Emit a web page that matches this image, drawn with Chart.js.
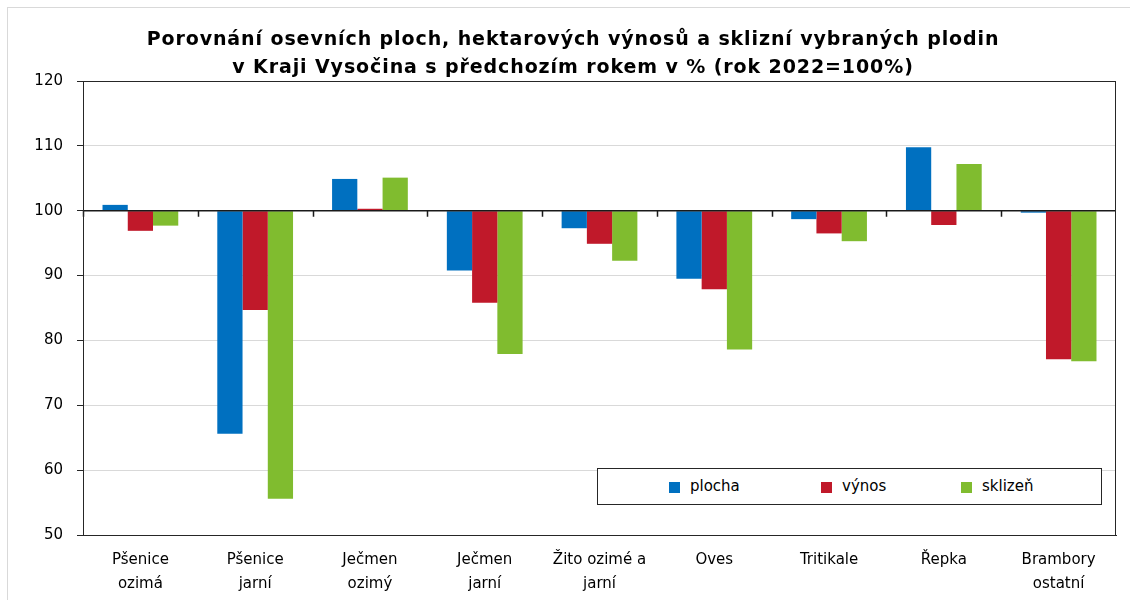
<!DOCTYPE html>
<html lang="cs">
<head>
<meta charset="utf-8">
<title>Porovnání osevních ploch</title>
<script src="https://cdn.jsdelivr.net/npm/chart.js@4.4.1/dist/chart.umd.min.js"></script>
<style>
  html, body { margin: 0; padding: 0; background: #fff; }
  body { width: 1130px; height: 600px; position: relative; overflow: hidden; font-family: Tahoma, 'DejaVu Sans', sans-serif; }
  .frame { position: absolute; left: 7px; top: 7px; width: 1200px; height: 700px; border: 1px solid #d9d9d9; box-sizing: border-box; }
  .title { position: absolute; left: 0; top: 24px; width: 1146px; text-align: center; font-weight: bold; font-size: 19px; letter-spacing: 0.9px; line-height: 28px; color: #000; }
  #wrap { position: absolute; left: 0; top: 0; width: 1130px; height: 600px; }
  .legend { position: absolute; left: 597px; top: 468px; width: 505px; height: 37px; box-sizing: border-box; border: 1px solid #262626; background: #fff; font-size: 15px; color: #000; }
  .legend span { position: absolute; top: 8px; line-height: 18px; }
  .legend i { position: absolute; top: 13px; width: 11px; height: 11px; }
</style>
</head>
<body>
<div class="frame"></div>
<div id="wrap"><canvas id="cropChart" width="1130" height="600"></canvas></div>
<div class="title">Porovnání osevních ploch, hektarových výnosů a sklizní vybraných plodin<br>v Kraji Vysočina s předchozím rokem v % (rok 2022=100%)</div>
<div class="legend">
  <i style="left:71px;background:#0070c0"></i><span style="left:92px">plocha</span>
  <i style="left:223px;background:#c0192a"></i><span style="left:244px">výnos</span>
  <i style="left:363px;background:#80bc2f"></i><span style="left:384px">sklizeň</span>
</div>
<script>
// ── Data (rok 2022 = 100 %) ─────────────────────────────────────────
const crops = [
  ['Pšenice', 'ozimá'], ['Pšenice', 'jarní'], ['Ječmen', 'ozimý'], ['Ječmen', 'jarní'],
  ['Žito ozimé a', 'jarní'], 'Oves', 'Tritikale', 'Řepka', ['Brambory', 'ostatní']
];
const plocha  = [100.9, 65.6, 104.9, 90.8, 97.3, 89.5, 98.7, 109.8, 99.7];
const vynos   = [96.9, 84.7, 100.3, 85.8, 94.9, 87.9, 96.5, 97.8, 77.1];
const sklizen = [97.7, 55.6, 105.1, 77.9, 92.3, 78.6, 95.3, 107.2, 76.8];
const yTicks  = [50, 60, 70, 80, 90, 100, 110, 120];

const FONT = "Tahoma, 'DejaVu Sans', sans-serif";

// ── Frame, 100 % line and its category ticks ────────────────────────
const framePlugin = {
  id: 'frame',
  afterDatasetsDraw(chart) {
    const { ctx, chartArea: a, scales } = chart;
    const y100 = scales.y.getPixelForValue(100);
    const step = (a.right - a.left) / crops.length;
    ctx.save();
    ctx.strokeStyle = '#1a1a1a';
    ctx.lineWidth = 1.5;
    ctx.beginPath();
    ctx.moveTo(a.left, y100);
    ctx.lineTo(a.right, y100);
    for (let i = 0; i < crops.length; i++) {
      const x = Math.round(a.left + i * step) + 0.5;
      ctx.moveTo(x, y100);
      ctx.lineTo(x, y100 + 6);
    }
    ctx.stroke();
    ctx.lineWidth = 1;
    ctx.strokeStyle = '#262626';
    ctx.strokeRect(a.left + 0.5, a.top + 0.5, a.right - a.left - 1, a.bottom - a.top);
    ctx.restore();
  }
};

// ── Chart ───────────────────────────────────────────────────────────
function drawCropChart() {
  const ctx = document.getElementById('cropChart');
  const series = [
    { label: 'plocha', data: plocha, color: '#0070c0' },
    { label: 'výnos', data: vynos, color: '#c0192a' },
    { label: 'sklizeň', data: sklizen, color: '#80bc2f' },
  ];
  new Chart(ctx, {
    type: 'bar',
    data: {
      labels: crops,
      datasets: series.map(s => ({
        label: s.label,
        data: s.data,
        base: 100,
        backgroundColor: s.color,
        borderWidth: 0,
        categoryPercentage: 0.66,
        barPercentage: 1.0,
      }))
    },
    options: {
      responsive: false,
      animation: false,
      events: [],
      layout: { padding: { left: 0, right: 14, top: 81, bottom: 0 } },
      plugins: { legend: { display: false }, title: { display: false }, tooltip: { enabled: false } },
      scales: {
        x: {
          afterFit: s => { s.height = 65; },
          grid: { display: false },
          border: { display: true, color: '#262626' },
          ticks: { color: '#000', font: { family: FONT, size: 15, lineHeight: 1.6 }, padding: 5, maxRotation: 0, autoSkip: false }
        },
        y: {
          min: 50, max: 120,
          afterFit: s => { s.width = 83; },
          afterBuildTicks: s => { s.ticks = yTicks.map(v => ({ value: v })); },
          grid: { color: '#d9d9d9', tickColor: '#262626', tickLength: 6 },
          border: { display: true, color: '#262626' },
          ticks: { color: '#000', font: { family: FONT, size: 15 }, padding: 14 }
        }
      }
    },
    plugins: [framePlugin]
  });
}

drawCropChart();
</script>
</body>
</html>
